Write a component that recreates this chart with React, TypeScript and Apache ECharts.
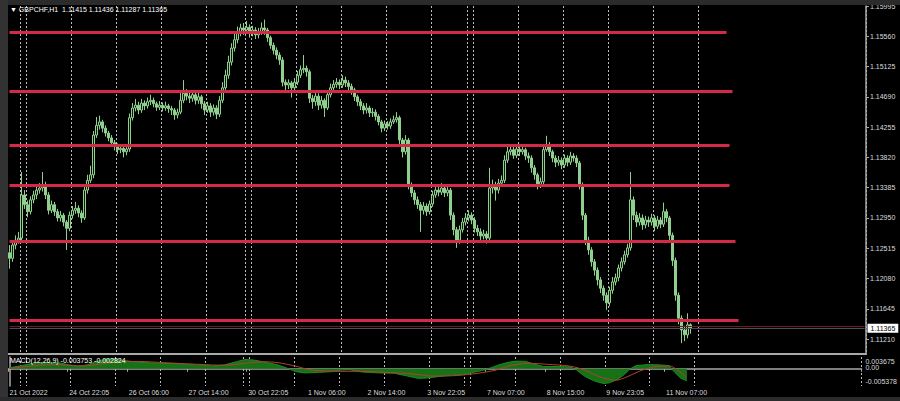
import React, { useEffect, useRef } from "react";
import * as echarts from "echarts";

const symbol = "GBPCHF";
const timeframe = "H1";
const firstOpen = 1.1245;

const closes = [
  1.1237, 1.1256, 1.1263, 1.1266, 1.1328, 1.1314, 1.1304, 1.1321, 1.1328, 1.1335,
  1.1338, 1.1342, 1.1328, 1.1306, 1.1314, 1.1304, 1.1295, 1.1299, 1.1289, 1.128,
  1.1299, 1.1306, 1.1309, 1.1302, 1.1295, 1.1335, 1.1349, 1.1357, 1.1414, 1.1428,
  1.1433, 1.1424, 1.1417, 1.141, 1.1403, 1.1398, 1.1393, 1.1395, 1.139, 1.1394,
  1.1439, 1.1453, 1.1457, 1.145, 1.146, 1.1456, 1.1462, 1.1464, 1.1459, 1.1454,
  1.1457, 1.1453, 1.1456, 1.1452, 1.145, 1.1443, 1.1447, 1.1464, 1.1474, 1.147,
  1.1467, 1.1472, 1.1464, 1.1469, 1.1459, 1.145, 1.1456, 1.1447, 1.1453, 1.1444,
  1.1464, 1.1482, 1.15, 1.1519, 1.1539, 1.1551, 1.1562, 1.1568, 1.1565, 1.1569,
  1.1561, 1.1565, 1.1558, 1.1562, 1.1568, 1.1565, 1.1554, 1.1543, 1.1536, 1.1529,
  1.1522, 1.149, 1.1486, 1.1489, 1.1482, 1.149, 1.15, 1.1508, 1.151, 1.1505,
  1.1467, 1.1462, 1.147, 1.1457, 1.1464, 1.1453, 1.1472, 1.1482, 1.1487, 1.149,
  1.1486, 1.1493, 1.1489, 1.1484, 1.1479, 1.1469, 1.1462, 1.1456, 1.145, 1.1453,
  1.1446, 1.1447, 1.1441, 1.1433, 1.1424, 1.143, 1.1427, 1.1433, 1.1436, 1.1439,
  1.1407, 1.139, 1.1407, 1.1342, 1.1331, 1.1321, 1.1314, 1.1306, 1.1312, 1.1304,
  1.1315, 1.1328, 1.1335, 1.1332, 1.1338, 1.1331, 1.1335, 1.1299, 1.1278, 1.1263,
  1.1278, 1.1289, 1.1295, 1.1299, 1.1292, 1.128, 1.1275, 1.1269, 1.1272, 1.1266,
  1.1338, 1.1342, 1.1335, 1.1345, 1.1349, 1.1378, 1.139, 1.1393, 1.1385, 1.1394,
  1.139, 1.1393, 1.1384, 1.1381, 1.1367, 1.1357, 1.1342, 1.1347, 1.1393, 1.14,
  1.139, 1.1381, 1.1375, 1.1378, 1.1371, 1.1381, 1.1375, 1.1384, 1.1381, 1.1374,
  1.1342, 1.1299, 1.1263, 1.1249, 1.1232, 1.122, 1.1206, 1.1194, 1.1184, 1.1173,
  1.1191, 1.1203, 1.1209, 1.1223, 1.1232, 1.1242, 1.1252, 1.1321, 1.1299, 1.1289,
  1.1295, 1.1285, 1.1292, 1.1289, 1.1295, 1.1283, 1.1292, 1.1286, 1.1304, 1.1295,
  1.127, 1.1234, 1.1184, 1.1151, 1.1134, 1.1127, 1.11415, 1.11365,
];

const highs = [
  1.1256, 1.1262, 1.127, 1.1275, 1.1361, 1.1335, 1.132, 1.1326, 1.1334, 1.1342,
  1.1345, 1.1361, 1.1347, 1.1332, 1.132, 1.1318, 1.1308, 1.1305, 1.1302, 1.1292,
  1.1304, 1.1312, 1.1318, 1.1313, 1.1306, 1.134, 1.1357, 1.137, 1.142, 1.144,
  1.1442, 1.1436, 1.1428, 1.142, 1.1414, 1.1407, 1.1402, 1.14, 1.1398, 1.1399,
  1.1445, 1.146, 1.1466, 1.1462, 1.1466, 1.1464, 1.1468, 1.1472, 1.1468, 1.1462,
  1.1463, 1.1461, 1.1462, 1.1459, 1.1456, 1.1453, 1.1452, 1.1478, 1.1493, 1.148,
  1.1476, 1.1478, 1.1476, 1.1475, 1.1472, 1.1463, 1.1462, 1.146, 1.1458, 1.1457,
  1.147, 1.149, 1.1508, 1.1528, 1.1546, 1.156, 1.157, 1.1574, 1.1575, 1.1578,
  1.1573, 1.1571, 1.1569, 1.1568, 1.1576, 1.158, 1.1568, 1.1557, 1.1547, 1.154,
  1.1533, 1.1526, 1.1494, 1.1494, 1.1492, 1.1496, 1.1506, 1.1514, 1.1529, 1.1514,
  1.1508, 1.1472, 1.1476, 1.1474, 1.147, 1.1467, 1.1478, 1.1488, 1.1493, 1.1496,
  1.1494, 1.15, 1.1498, 1.1493, 1.1488, 1.1482, 1.1472, 1.1466, 1.146, 1.146,
  1.1456, 1.1453, 1.1451, 1.1444, 1.1436, 1.1435, 1.1434, 1.1438, 1.1442, 1.1447,
  1.1442, 1.141, 1.1414, 1.141, 1.1346, 1.1335, 1.1326, 1.1318, 1.1318, 1.1316,
  1.132, 1.1334, 1.1342, 1.134, 1.1345, 1.1342, 1.1341, 1.1338, 1.1303, 1.1282,
  1.1284, 1.1295, 1.1302, 1.1306, 1.1303, 1.1296, 1.1285, 1.128, 1.1278, 1.1276,
  1.1367, 1.135, 1.1347, 1.1351, 1.1356, 1.1385, 1.1398, 1.14, 1.1397, 1.14,
  1.1398, 1.1399, 1.1396, 1.1389, 1.1385, 1.1371, 1.136, 1.1353, 1.1399, 1.1413,
  1.1404, 1.1393, 1.1385, 1.1384, 1.1382, 1.1386, 1.1385, 1.139, 1.1388, 1.1385,
  1.1377, 1.1346, 1.1302, 1.1268, 1.1253, 1.1236, 1.1224, 1.121, 1.1198, 1.1188,
  1.1196, 1.121, 1.1215, 1.1228, 1.1238, 1.1248, 1.1258, 1.1361, 1.1326, 1.1304,
  1.1302, 1.13, 1.1298, 1.1297, 1.1301, 1.1299, 1.1298, 1.1296, 1.1317, 1.1308,
  1.1298, 1.1274, 1.1238, 1.1188, 1.1155, 1.114, 1.1158, 1.11436,
];

const lows = [
  1.1222, 1.1232, 1.125, 1.1258, 1.1262, 1.1308, 1.1296, 1.13, 1.1316, 1.1322,
  1.133, 1.1333, 1.1322, 1.13, 1.1302, 1.1298, 1.129, 1.129, 1.1283, 1.1249,
  1.1276, 1.1294, 1.1301, 1.1296, 1.1288, 1.1292, 1.133, 1.1345, 1.1352, 1.141,
  1.1422, 1.1418, 1.1412, 1.1405, 1.1398, 1.1392, 1.1387, 1.1388, 1.1382, 1.1385,
  1.139, 1.1435, 1.1448, 1.1444, 1.1446, 1.145, 1.1452, 1.1457, 1.1454, 1.1449,
  1.145, 1.1448, 1.1449, 1.1446, 1.1443, 1.1436, 1.1438, 1.1444, 1.146, 1.1464,
  1.146, 1.1462, 1.1458, 1.1459, 1.1452, 1.1443, 1.1446, 1.144, 1.1442, 1.1437,
  1.144, 1.146, 1.1478, 1.1495, 1.1514, 1.1534, 1.1546, 1.1556, 1.1558, 1.156,
  1.1554, 1.1556, 1.1552, 1.1553, 1.1558, 1.1558, 1.1548, 1.1538, 1.153, 1.1523,
  1.1515, 1.1484, 1.1478, 1.148, 1.1468, 1.1478, 1.1486, 1.1496, 1.1503, 1.1498,
  1.146, 1.1452, 1.1456, 1.145, 1.1452, 1.144, 1.145, 1.1468, 1.1478, 1.1482,
  1.148, 1.1482, 1.1483, 1.1478, 1.1472, 1.1463, 1.1456, 1.145, 1.1444, 1.1445,
  1.144, 1.144, 1.1435, 1.1428, 1.1418, 1.142, 1.1422, 1.1423, 1.143, 1.1432,
  1.14, 1.1382, 1.1386, 1.1336, 1.1325, 1.1314, 1.1308, 1.1275, 1.13, 1.1298,
  1.13, 1.1311, 1.1324, 1.1326, 1.1328, 1.1325, 1.1326, 1.1292, 1.127, 1.1252,
  1.1258, 1.1274, 1.1284, 1.129, 1.1286, 1.1274, 1.1269, 1.1262, 1.1264, 1.1258,
  1.1262, 1.133, 1.132, 1.133, 1.134, 1.1345, 1.1374, 1.1385, 1.138, 1.1381,
  1.1384, 1.1386, 1.1378, 1.1374, 1.136, 1.135, 1.1336, 1.1338, 1.1343, 1.139,
  1.1384, 1.1375, 1.1368, 1.137, 1.1365, 1.1367, 1.1369, 1.1371, 1.1376, 1.1368,
  1.1336, 1.1292, 1.1256, 1.1242, 1.1225, 1.1212, 1.1198, 1.1187, 1.1176, 1.1163,
  1.1168, 1.1186, 1.1198, 1.1204, 1.1218, 1.1228, 1.1238, 1.1248, 1.1292, 1.1282,
  1.1284, 1.1278, 1.128, 1.1282, 1.1284, 1.1276, 1.1279, 1.128, 1.1282, 1.1289,
  1.1263, 1.1226, 1.1176, 1.1142, 1.1115, 1.1118, 1.1122, 1.11287,
];

// empty bars to the right (chart shift)
const emptyBarsRight = 58;
const barsPerTimeLabel = 20;
const xTickLabels = [
  "21 Oct 2022", "24 Oct 22:05", "26 Oct 06:00", "27 Oct 14:00", "30 Oct 22:05", "1 Nov 06:00",
  "2 Nov 14:00", "3 Nov 22:05", "7 Nov 07:00", "8 Nov 15:00", "9 Nov 23:05", "11 Nov 07:00",
];
// bar indices where the dotted vertical grid lines sit
const gridBars = [4, 6, 21, 36, 51, 66, 79, 81, 96, 111, 126, 141, 153, 155, 170, 185, 200, 215, 230];

const priceTicks = [1.15995, 1.1556, 1.15125, 1.1469, 1.14255, 1.1382, 1.13385, 1.1295, 1.12515, 1.1208, 1.11645, 1.1121];
const priceAxisMax = 1.15995;
const priceAxisMin = 1.10995;

const levelPrices = [1.1562, 1.14774, 1.13998, 1.13423, 1.12618, 1.11483];
const levelEndBars = [239, 241, 240, 240, 242, 243];
const bidPrice = 1.11365;
const askPrice = 1.11398;

const macdTicks = [0.003675, 0, -0.005378];
const macdMain = [
  [0, 0.0003], [4, 0.001], [8, 0.0017], [12, 0.0019], [17, 0.0018], [20, 0.0012], [23, 0.0008],
  [26, 0.0012], [29, 0.0022], [32, 0.003], [35, 0.0031], [39, 0.0025], [44, 0.002], [50, 0.0017],
  [56, 0.0016], [62, 0.0012], [68, 0.0009], [72, 0.0012], [76, 0.0022], [79, 0.0029], [82, 0.0027],
  [86, 0.002], [90, 0.0012], [93, 0.0002], [96, -0.0009], [99, -0.0013], [104, -0.0011], [108, -0.0009],
  [111, -0.0004], [114, -0.0003], [118, -0.001], [124, -0.0013], [129, -0.0014], [133, -0.0022],
  [137, -0.003], [140, -0.0029], [144, -0.0024], [148, -0.002], [152, -0.0018], [156, -0.001],
  [159, -0.0004], [161, 0.0002], [164, 0.0012], [167, 0.002], [170, 0.0024], [173, 0.0023],
  [176, 0.0014], [179, 0.0007], [184, 0.0007], [188, 0.0006], [190, -0.0004], [193, -0.0025],
  [196, -0.0038], [199, -0.0046], [201, -0.0044], [204, -0.0032], [206, -0.0018], [208, 0.0],
  [210, 0.001], [214, 0.0013], [218, 0.0012], [221, 0.001], [223, -0.0012], [225, -0.003], [227, -0.003753],
];
const macdSignal = [
  [0, 0.0001], [7, 0.0008], [14, 0.0013], [20, 0.0011], [25, 0.0009], [30, 0.0014], [36, 0.0021],
  [43, 0.0023], [52, 0.0019], [63, 0.0014], [72, 0.0011], [78, 0.0016], [85, 0.0022], [90, 0.0019],
  [96, 0.0008], [100, -0.0002], [108, -0.0008], [118, -0.0008], [128, -0.0012], [135, -0.0016],
  [142, -0.0023], [150, -0.0021], [157, -0.0014], [163, -0.0004], [168, 0.001], [174, 0.0017],
  [180, 0.0014], [188, 0.0008], [193, -0.0005], [198, -0.0026], [203, -0.0036], [207, -0.0025],
  [211, -0.0008], [216, 0.0006], [221, 0.0009], [225, -0.0012], [227, -0.002824],
];

const FONT = "'Liberation Sans', Arial, sans-serif";

export default function App() {
  const ref = useRef<HTMLDivElement>(null);

  useEffect(() => {
    document.body.style.margin = "0";
    if (!ref.current) return;
    const chart = echarts.init(ref.current, undefined, { renderer: "svg" });

    const nBars = closes.length;
    const total = nBars + emptyBarsRight;
    const cats = Array.from({ length: total }, (_, i) => String(i));
    const ohlc = closes.map((c, i) => [i === 0 ? firstOpen : closes[i - 1], c, lows[i], highs[i]]);
    const gridSet = new Set(gridBars);
    const isLabel = (i: number) => i % barsPerTimeLabel === 0 && i / barsPerTimeLabel < xTickLabels.length;

    const last = ohlc[nBars - 1];
    const header = `▼ ${symbol},${timeframe}  ${last[0].toFixed(5)} ${last[3].toFixed(5)} ${last[2].toFixed(5)} ${last[1].toFixed(5)}`;
    const macdHeader = `MACD(12,26,9) ${macdMain[macdMain.length - 1][1].toFixed(6)} ${macdSignal[macdSignal.length - 1][1].toFixed(6)}`;

    const dotted = { color: "#bdbdbd", type: [2, 2] as any, width: 1 };
    const axisGray = "#a9a9a9";
    const labelText = { fontSize: 7, color: "#dcdcdc", fontFamily: FONT };

    const levelLines = levelPrices.map((p, i) => [
      { coord: [0, p], lineStyle: { color: "#d42a47", width: 3, type: "solid" }, label: { show: false } },
      { coord: [levelEndBars[i], p] },
    ]);

    const macdAxisBase = {
      type: "value", gridIndex: 1, position: "right", min: macdTicks[2], max: macdTicks[0],
      axisTick: { show: false }, splitLine: { show: false },
    };

    const option: any = {
      animation: false,
      backgroundColor: "#000",
      textStyle: { fontFamily: FONT },
      title: [
        { text: header, left: 10, top: 6, padding: 0, textStyle: { color: "#fff", fontSize: 7, fontWeight: "normal", fontFamily: FONT } },
        { text: macdHeader, left: 10, top: 357, padding: 0, textStyle: { color: "#fff", fontSize: 7, fontWeight: "normal", fontFamily: FONT } },
      ],
      graphic: [
        { type: "rect", z: 100, shape: { x: 0, y: 0, width: 900, height: 5 }, style: { fill: "#2b2b2b" } },
        { type: "rect", z: 100, shape: { x: 0, y: 0, width: 8, height: 401 }, style: { fill: "#323232" } },
        { type: "rect", z: 100, shape: { x: 0, y: 397, width: 900, height: 4 }, style: { fill: "#2b2b2b" } },
      ],
      grid: [
        { left: 8, top: 6, width: 858, height: 348 },
        { left: 8, top: 357, width: 858, height: 29 },
      ],
      xAxis: [
        {
          type: "category", gridIndex: 0, data: cats, boundaryGap: true,
          axisLine: { show: true, lineStyle: { color: axisGray, width: 2 } },
          axisTick: { show: false }, axisLabel: { show: false },
          splitLine: { show: true, interval: (i: number) => gridSet.has(i), lineStyle: dotted },
        },
        {
          type: "category", gridIndex: 1, data: cats, boundaryGap: true,
          axisLine: { show: true, lineStyle: { color: axisGray, width: 1.5 } },
          axisTick: { show: true, interval: (i: number) => isLabel(i), length: 3, lineStyle: { color: axisGray } },
          axisLabel: {
            interval: (i: number) => isLabel(i),
            formatter: (_v: string, i: number) => (isLabel(i) ? xTickLabels[i / barsPerTimeLabel] : ""),
            align: "left", margin: 3, ...labelText,
          },
          splitLine: { show: true, interval: (i: number) => gridSet.has(i), lineStyle: dotted },
        },
        { type: "value", gridIndex: 1, min: -0.5, max: total - 0.5, show: false },
      ],
      yAxis: [
        {
          type: "value", gridIndex: 0, position: "right", min: priceAxisMin, max: priceAxisMax,
          axisLine: { show: true, lineStyle: { color: axisGray, width: 1.5 } },
          axisTick: { show: true, customValues: priceTicks, length: 3, lineStyle: { color: axisGray } },
          axisLabel: { customValues: priceTicks, formatter: (v: number) => v.toFixed(5), margin: 4, hideOverlap: false, ...labelText },
          splitLine: { show: false },
        },
        {
          ...macdAxisBase,
          axisLine: { show: true, lineStyle: { color: axisGray, width: 1.5 } },
          axisLabel: {
            customValues: [macdTicks[1], macdTicks[2]],
            hideOverlap: false,
            formatter: (v: number) => (Math.abs(v) < 1e-12 ? "{m|0.00}" : `{b|${v.toFixed(6)}}`),
            rich: {
              b: { padding: [0, 0, 9, 0], ...labelText },
              m: { padding: [0, 0, 2, 0], ...labelText },
            },
            margin: 4,
          },
        },
        {
          ...macdAxisBase,
          axisLine: { show: false },
          axisLabel: {
            customValues: [macdTicks[0]],
            hideOverlap: false,
            showMaxLabel: true,
            formatter: (v: number) => `{t|${v.toFixed(6)}}`,
            rich: { t: { padding: [8, 0, 0, 0], ...labelText } },
            margin: 4,
          },
        },
      ],
      series: [
        {
          type: "candlestick", xAxisIndex: 0, yAxisIndex: 0, data: ohlc, barWidth: 1.6,
          itemStyle: { color: "#0b1a0b", color0: "#8fd08f", borderColor: "#8fd08f", borderColor0: "#8fd08f", borderWidth: 1 },
          markLine: {
            silent: true, symbol: ["none", "none"], animation: false,
            data: [
              ...levelLines,
              [
                { coord: [0, askPrice], lineStyle: { color: "#6e1c24", width: 1, type: "solid" }, label: { show: false } },
                { coord: [total - 1, askPrice] },
              ],
              [
                {
                  coord: [0, bidPrice], lineStyle: { color: "#4c4c58", width: 1, type: "solid" },
                  label: {
                    show: true, position: "end", distance: 3, formatter: bidPrice.toFixed(5),
                    backgroundColor: "#fff", color: "#000", fontSize: 7, padding: [1, 3, 1, 3], fontFamily: FONT,
                  },
                },
                { coord: [total - 1, bidPrice] },
              ],
            ],
          },
        },
        {
          type: "line", xAxisIndex: 2, yAxisIndex: 1, data: macdMain, symbol: "none",
          lineStyle: { color: "#1f8a1f", width: 1 }, areaStyle: { color: "#177217", opacity: 1 },
        },
        {
          type: "line", xAxisIndex: 2, yAxisIndex: 1, data: macdSignal, symbol: "none", smooth: 0.3,
          lineStyle: { color: "#b3402f", width: 1 },
        },
      ],
    };

    chart.setOption(option);
    return () => chart.dispose();
  }, []);

  return (
    <div style={{ position: "fixed", left: 0, top: 0, width: 900, height: 401, background: "#2b2b2b" }}>
      <div ref={ref} style={{ width: 900, height: 401 }} />
    </div>
  );
}
